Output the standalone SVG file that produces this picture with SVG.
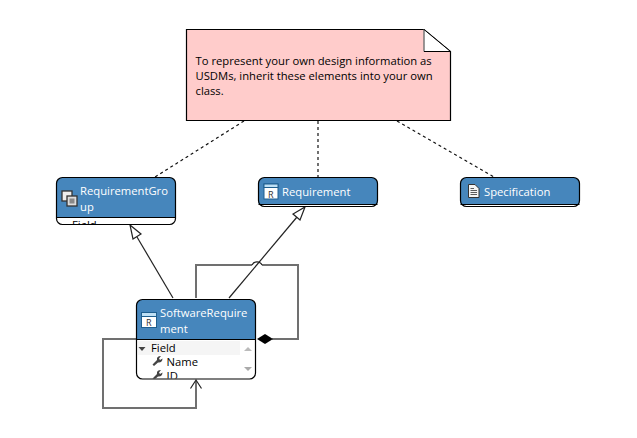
<svg xmlns="http://www.w3.org/2000/svg" width="637" height="438" viewBox="0 0 637 438">
<style>
text{font-family:"Open Sans","Noto Sans",sans-serif;font-size:11.25px}
.t{fill:#fff;font-size:11.25px}
.b{fill:#000}
.hd{fill:#4686bc}
.box{fill:none;stroke:#000;stroke-width:1.2}
.bg{fill:#fff}
.dash{fill:none;stroke:#111;stroke-width:1.2;stroke-dasharray:3 3}
.thin{fill:none;stroke:#222;stroke-width:1.2}
.thick{fill:none;stroke:#707070;stroke-width:2}
.ic{fill:#fff;stroke:#1f5f8f;stroke-width:1}
</style>
<defs>
<clipPath id="c1"><rect x="57" y="217" width="118" height="7"/></clipPath>
<clipPath id="c2"><rect x="137" y="340" width="118" height="38.500"/></clipPath>
<path id="w" d="M0 8.500L4.500 4C4 1.500 5.500 0 8.500 0L6.500 2.500L7.500 4L10 2.500C10 5.500 8 7 5.500 6.500L1.500 10Z" fill="#444"/>
</defs>
<g id="connectors">
<path class="dash" d="M244 121L155 177M318 121V177M397 121L494 177"/>
<path class="thin" d="M173 298L137 237"/>
<path d="M130 225L141 234L133 239Z" fill="#fff" stroke="#222" stroke-width="1.200"/>
<path class="thin" d="M229 298L297 217"/>
<path d="M305 207L300 220L293 214Z" fill="#fff" stroke="#222" stroke-width="1.200"/>
<path class="thick" d="M196 298V265H252M262 265H298V339H272"/>
<path class="thin" d="M252 265A5.500 5.500 0 0 1 262 265"/>
<path d="M257 339L265 334L273 339L265 344Z" fill="#000"/>
<path class="thick" d="M136 339H103V408H196V381"/>
<path class="thin" d="M190.500 388.500L196 380L201.500 388.500"/>
</g>
<g id="note">
<path d="M186.500 29.500H424L450.500 51.500V120.500H186.500Z" fill="#ffcccb" stroke="#000" stroke-width="1.200"/>
<path d="M424 29.500L450.500 51.500H424Z" fill="#fff"/>
<path d="M424 29.500V51.500" stroke="#777" stroke-width="1.500"/>
<path d="M424 51.500H450.500L424 29.500" fill="none" stroke="#000" stroke-width="1"/>
<text class="b" x="195.500" y="65">To represent your own design information as</text>
<text class="b" x="195.500" y="80">USDMs, inherit these elements into your own</text>
<text class="b" x="195.500" y="95">class.</text>
</g>
<g id="RequirementGroup">
<rect class="bg" x="56.500" y="177.500" width="119" height="47" rx="6"/>
<path class="hd" d="M56.500 217V183.500a6 6 0 0 1 6-6H169.500a6 6 0 0 1 6 6V217Z"/>
<path d="M56.500 217.500H175.500" stroke="#000" stroke-width="1"/>
<rect class="box" x="56.500" y="177.500" width="119" height="47" rx="6"/>
<g clip-path="url(#c1)"><text class="b" x="72" y="229">Field</text></g>
<rect x="62" y="191" width="10" height="10" fill="#eee" stroke="#333" stroke-width="1.300"/>
<rect x="67" y="196" width="10" height="10" fill="#ddd" stroke="#333" stroke-width="1.300"/>
<rect x="69.500" y="198.500" width="5" height="5" fill="#888"/>
<text class="t" x="80" y="195">RequirementGro</text>
<text class="t" x="80" y="211">up</text>
</g>
<g id="Requirement">
<rect class="bg" x="258.500" y="177.500" width="119" height="29" rx="6"/>
<path class="hd" d="M258.500 204V183.500a6 6 0 0 1 6-6H371.500a6 6 0 0 1 6 6V204Z"/>
<path d="M258.500 204.500H377.500" stroke="#000" stroke-width="1"/>
<rect class="box" x="258.500" y="177.500" width="119" height="29" rx="6"/>
<rect class="ic" x="264" y="184" width="14" height="15"/>
<rect x="264" y="184" width="14" height="3.500" fill="#bfe0f5" stroke="#1f5f8f"/>
<text x="268" y="197.500" style="font-size:9px;fill:#333">R</text>
<text class="t" x="282" y="196">Requirement</text>
</g>
<g id="Specification">
<rect class="bg" x="460.500" y="177.500" width="119" height="29" rx="6"/>
<path class="hd" d="M460.500 204V183.500a6 6 0 0 1 6-6H573.500a6 6 0 0 1 6 6V204Z"/>
<path d="M460.500 204.500H579.500" stroke="#000" stroke-width="1"/>
<rect class="box" x="460.500" y="177.500" width="119" height="29" rx="6"/>
<path d="M468.500 184.500H475L479 188.500V197.500H468.500Z" fill="#f4f4f4" stroke="#333"/>
<path d="M470.500 188.500H474M470.500 190.500H477M470.500 192.500H477M470.500 194.500H477" stroke="#333" stroke-width=".8"/>
<text class="t" x="484" y="196">Specification</text>
</g>
<g id="SoftwareRequirement">
<rect class="bg" x="136.500" y="299.500" width="119" height="79.500" rx="6"/>
<path class="hd" d="M136.500 339V305.500a6 6 0 0 1 6-6H249.500a6 6 0 0 1 6 6V339Z"/>
<path d="M136.500 339.500H255.500" stroke="#000" stroke-width="1"/>
<rect x="138" y="341" width="102" height="14" fill="#f5f5f5"/>
<g clip-path="url(#c2)">
<text class="b" x="151" y="352">Field</text>
<use href="#w" x="152.500" y="356"/>
<text class="b" x="166.500" y="366">Name</text>
<use href="#w" x="152.500" y="370"/>
<text class="b" x="166.500" y="380">ID</text>
</g>
<path d="M138.500 347H145.500L142 351Z" fill="#444"/>
<path d="M244 351H252L248 347Z" fill="#bbb"/>
<path d="M244 367H252L248 371Z" fill="#aaa"/>
<rect class="box" x="136.500" y="299.500" width="119" height="79.500" rx="6"/>
<rect class="ic" x="141.500" y="312.500" width="15" height="15"/>
<rect x="141.500" y="312.500" width="15" height="4" fill="#bfe0f5" stroke="#1f5f8f"/>
<text x="146" y="326" style="font-size:9px;fill:#333">R</text>
<text class="t" x="160" y="317">SoftwareRequire</text>
<text class="t" x="160" y="333">ment</text>
</g>
</svg>
